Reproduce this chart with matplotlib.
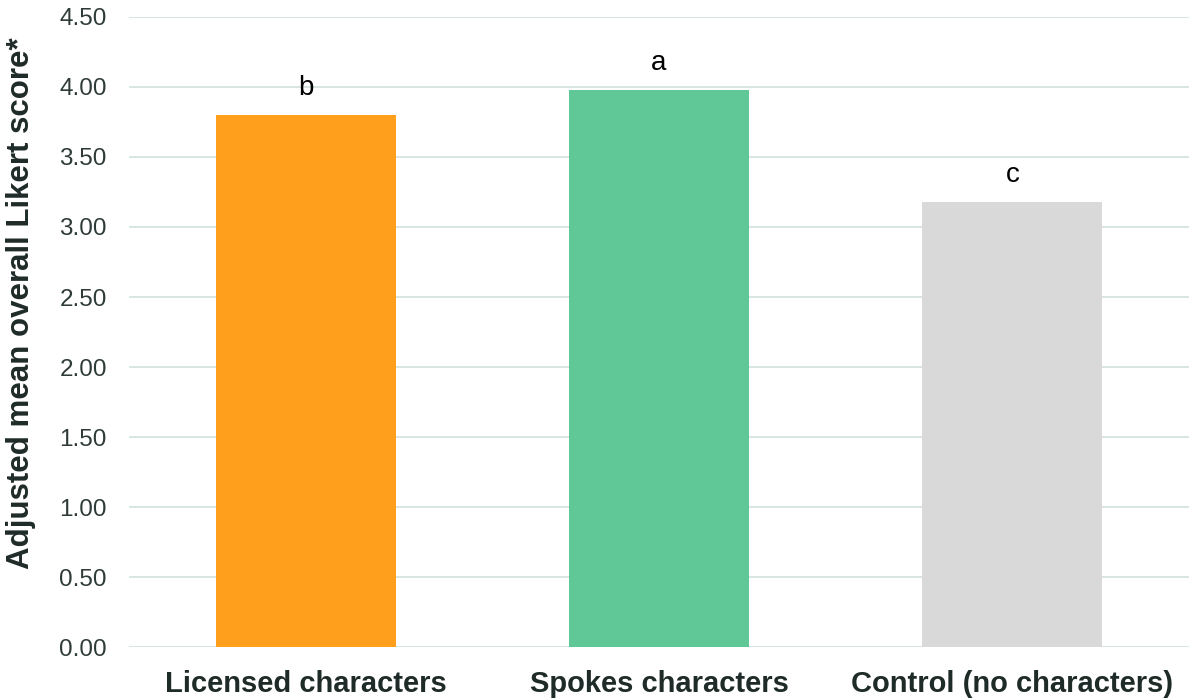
import matplotlib
matplotlib.use("Agg")
import matplotlib.pyplot as plt

categories = ["Licensed characters", "Spokes characters", "Control (no characters)"]
scores = [3.80, 3.98, 3.18]
letters = ["b", "a", "c"]
colors = ["#FF9F1C", "#5FC896", "#D9D9D9"]
yticks = [0.0, 0.5, 1.0, 1.5, 2.0, 2.5, 3.0, 3.5, 4.0, 4.5]

plt.rcParams["font.family"] = "Liberation Sans"

fig = plt.figure(figsize=(11.89, 7.0), dpi=100)
ax = fig.add_axes([0.1085, 0.0753, 0.8915, 0.9007])

x = range(len(categories))
bars = ax.bar(x, scores, width=0.51, color=colors, zorder=2)
for b, lab in zip(bars, letters):
    ax.text(b.get_x() + b.get_width() / 2, b.get_height() + 0.14, lab,
            ha="center", va="baseline", fontsize=20, color="black")

ax.set_xlim(-0.5, 2.5)
ax.set_ylim(0, 4.5)
ax.set_yticks(yticks)
ax.set_yticklabels([f"{v:.2f}" for v in yticks], fontsize=17.5, color="#2E3B38")
ax.set_xticks(list(x))
ax.set_xticklabels(categories, fontsize=21, fontweight="bold", color="#1F2B28")
ax.grid(axis="y", color="#D5E3DF", lw=1.3, zorder=0)
ax.tick_params(length=0)
ax.tick_params(axis="x", pad=16.5)
ax.tick_params(axis="y", pad=16)
for s in ax.spines.values():
    s.set_visible(False)

ax.set_ylabel("Adjusted mean overall Likert score*", fontsize=22.5, fontweight="bold",
              color="#1F2B28", va="center")
ax.yaxis.set_label_coords(-0.1015, 0.545)

fig.savefig("out.png", dpi=100)
